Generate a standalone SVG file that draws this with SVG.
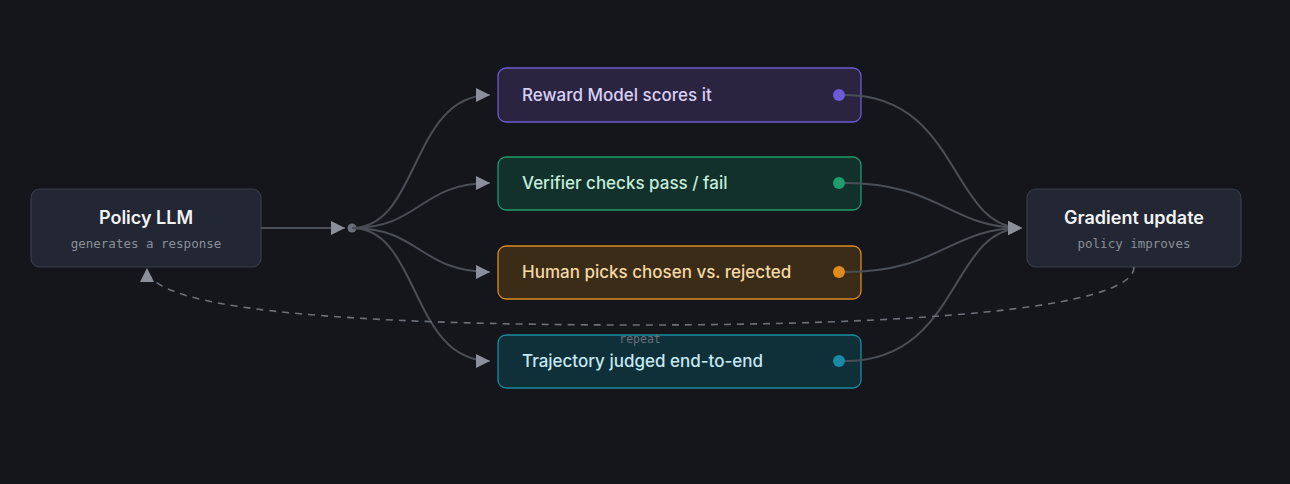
<svg xmlns="http://www.w3.org/2000/svg" width="1290" height="484" viewBox="0 0 1290 484">
<defs>
<marker id="ah" viewBox="0 0 10 10" refX="10" refY="5" markerWidth="14" markerHeight="14" markerUnits="userSpaceOnUse" orient="auto"><path d="M0,0L10,5L0,10z" fill="#8a8f99"/></marker>
<style>
.n{fill:#222733;stroke:#373d4a;stroke-width:1.2}
.t{font-family:"Inter","Liberation Sans",sans-serif;font-weight:600;font-size:18px;fill:#f2f3f5;text-anchor:middle}
.s{font-family:"DejaVu Sans Mono","Liberation Mono",monospace;font-size:12.5px;fill:#8a8f99;text-anchor:middle}
.l{font-family:"Inter","Liberation Sans",sans-serif;font-weight:500;font-size:17px}
.c{fill:none;stroke:#4a4e57;stroke-width:2}
</style>
</defs>
<rect width="1290" height="484" fill="#14161b"/>
<g id="policy"><rect class="n" x="31" y="189" width="230" height="78" rx="9"/><text class="t" x="146" y="224">Policy LLM</text><text class="s" x="146" y="248">generates a response</text></g>
<g id="gradient"><rect class="n" x="1027" y="189" width="214" height="78" rx="9"/><text class="t" x="1134" y="224">Gradient update</text><text class="s" x="1134" y="248">policy improves</text></g>
<g id="reward"><rect x="498" y="68" width="363" height="54" rx="8" fill="#2a2440" stroke="#6e5bd0" stroke-width="1.3"/><text class="l" x="522" y="101" fill="#d9d0f7">Reward Model scores it</text><circle cx="839" cy="95" r="6" fill="#6c5ad6"/></g>
<g id="verifier"><rect x="498" y="157" width="363" height="53" rx="8" fill="#11312a" stroke="#1f9a6c" stroke-width="1.3"/><text class="l" x="522" y="189" fill="#c5ecdb">Verifier checks pass / fail</text><circle cx="839" cy="183" r="6" fill="#1f9d6e"/></g>
<g id="human"><rect x="498" y="246" width="363" height="53" rx="8" fill="#3a2c16" stroke="#d98a22" stroke-width="1.3"/><text class="l" x="522" y="278" fill="#f4d9a6">Human picks chosen vs. rejected</text><circle cx="839" cy="272" r="6" fill="#e08a1e"/></g>
<g id="trajectory"><rect x="498" y="335" width="363" height="53" rx="8" fill="#0f2f39" stroke="#1a8aa0" stroke-width="1.3"/><text class="l" x="522" y="367" fill="#c5e9f2">Trajectory judged end-to-end</text><circle cx="839" cy="361" r="6" fill="#1a8aa6"/></g>
<g id="connectors">
<path class="c" d="M261,228H345" marker-end="url(#ah)"/>
<circle cx="352" cy="228" r="4.5" fill="#6b707a"/>
<path class="c" d="M352,228C420,228 410,95 490,95" marker-end="url(#ah)"/>
<path class="c" d="M352,228C420,228 420,183 490,183" marker-end="url(#ah)"/>
<path class="c" d="M352,228C420,228 420,272 490,272" marker-end="url(#ah)"/>
<path class="c" d="M352,228C420,228 410,361 490,361" marker-end="url(#ah)"/>
<path class="c" d="M845,95C960,95 950,228 1022,228" marker-end="url(#ah)"/>
<path class="c" d="M845,183C940,183 950,228 1022,228" marker-end="url(#ah)"/>
<path class="c" d="M845,272C940,272 950,228 1022,228" marker-end="url(#ah)"/>
<path class="c" d="M845,361C960,361 950,228 1022,228" marker-end="url(#ah)"/>
<path d="M1134,267C1134,310 900,325 640,325C350,325 147,310 147,268" fill="none" stroke="#6b707a" stroke-width="1.6" stroke-dasharray="7 6" marker-end="url(#ah)"/>
<text x="640" y="343" class="s" style="font-size:11.5px;fill:#6b707a">repeat</text>
</g>
</svg>
